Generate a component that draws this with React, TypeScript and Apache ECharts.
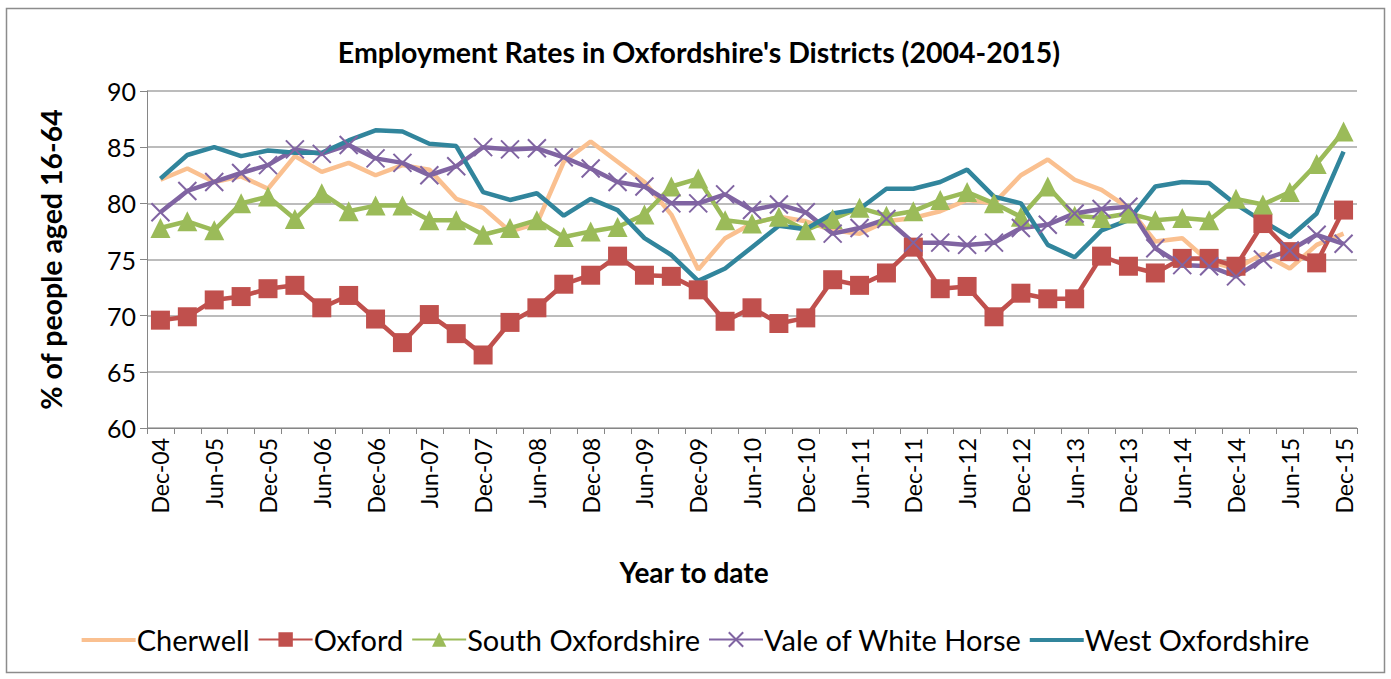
import React, { useEffect, useRef } from "react";
import * as echarts from "echarts";

const periods: string[] = [];
const years = ["04", "05", "06", "07", "08", "09", "10", "11", "12", "13", "14", "15"];
const months = ["Mar", "Jun", "Sep", "Dec"];
periods.push("Dec-04");
for (let y = 1; y < years.length; y++) {
  for (const m of months) periods.push(`${m}-${years[y]}`);
}

const cherwell = [82.1, 83.1, 81.9, 82.4, 81.3, 84.2, 82.8, 83.6, 82.5, 83.4, 83.0, 80.4, 79.6, 77.5, 78.2, 83.7, 85.5, 83.7, 81.9, 79.0, 74.1, 76.9, 78.2, 78.8, 78.4, 77.6, 77.3, 78.4, 78.7, 79.3, 80.3, 80.0, 82.5, 83.9, 82.1, 81.2, 79.6, 76.6, 76.9, 74.8, 74.2, 75.5, 74.2, 76.3, 77.3];
const oxford = [69.6, 69.9, 71.4, 71.7, 72.4, 72.7, 70.7, 71.8, 69.7, 67.6, 70.1, 68.4, 66.5, 69.4, 70.7, 72.8, 73.6, 75.3, 73.6, 73.5, 72.3, 69.5, 70.7, 69.3, 69.8, 73.2, 72.7, 73.8, 76.1, 72.4, 72.6, 69.9, 72.0, 71.5, 71.5, 75.3, 74.4, 73.8, 75.1, 75.1, 74.4, 78.2, 75.7, 74.7, 79.4];
const southOxon = [77.8, 78.4, 77.6, 80.0, 80.6, 78.6, 80.9, 79.3, 79.8, 79.8, 78.5, 78.5, 77.2, 77.8, 78.5, 77.0, 77.5, 77.9, 79.0, 81.5, 82.2, 78.5, 78.2, 78.8, 77.6, 78.6, 79.6, 78.9, 79.3, 80.3, 81.0, 80.0, 78.8, 81.5, 78.9, 78.7, 79.1, 78.5, 78.7, 78.5, 80.4, 79.9, 81.0, 83.5, 86.4];
const vale = [79.2, 81.1, 81.9, 82.7, 83.4, 84.8, 84.4, 85.2, 84.0, 83.6, 82.5, 83.3, 85.0, 84.8, 84.9, 84.1, 83.1, 81.9, 81.5, 80.0, 80.0, 80.8, 79.4, 79.9, 79.2, 77.3, 77.8, 78.6, 76.5, 76.5, 76.3, 76.5, 77.8, 78.1, 79.1, 79.5, 79.7, 76.0, 74.5, 74.4, 73.5, 75.0, 75.8, 77.2, 76.4];
const westOxon = [82.2, 84.3, 85.0, 84.2, 84.7, 84.5, 84.5, 85.6, 86.5, 86.4, 85.3, 85.1, 81.0, 80.3, 80.9, 78.9, 80.4, 79.4, 76.9, 75.4, 73.1, 74.2, 76.1, 78.0, 77.7, 79.1, 79.5, 81.3, 81.3, 81.9, 83.0, 80.6, 80.0, 76.3, 75.2, 77.6, 78.5, 81.5, 81.9, 81.8, 79.9, 78.4, 77.0, 79.1, 84.6];

const FONT = "Lato";
const crossPath = "path://M0,0 L10,10 M10,0 L0,10";
const lineIcon = "path://M0,0 M0,7.5 L54,7.5 L54,11.5 L0,11.5 Z M54,18";

export default function App() {
  const ref = useRef<HTMLDivElement>(null);
  useEffect(() => {
    if (!ref.current) return;
    const chart = echarts.init(ref.current, null, { renderer: "svg" });
    const base = { type: "line" as const, showAllSymbol: true, z: 2 };
    chart.setOption({
      animation: false,
      backgroundColor: "#ffffff",
      textStyle: { fontFamily: FONT },
      title: {
        text: "Employment Rates in Oxfordshire's Districts (2004-2015)",
        left: 694,
        textAlign: "center",
        top: 32,
        textStyle: { fontFamily: FONT, fontWeight: "bold", fontSize: 28.5, color: "#000" },
      },
      graphic: [
        {
          type: "rect",
          shape: { x: 6.5, y: 8.5, width: 1378, height: 664 },
          style: { fill: "none", stroke: "#8c8c8c", lineWidth: 1.5 },
          silent: true,
        },
        {
          type: "text",
          x: 694,
          y: 572,
          style: { text: "Year to date", fontFamily: FONT, fontWeight: "bold", fontSize: 28, fill: "#000", align: "center", verticalAlign: "middle" },
          silent: true,
        },
      ],
      legend: {
        bottom: 20,
        left: "center",
        itemWidth: 54,
        itemHeight: 18,
        itemGap: 8,
        textStyle: { fontFamily: FONT, fontSize: 29, color: "#000", padding: [0, 0, 0, -4] },
        data: [
          { name: "Cherwell", icon: lineIcon },
          { name: "Oxford" },
          { name: "South Oxfordshire" },
          { name: "Vale of White Horse" },
          { name: "West Oxfordshire", icon: lineIcon },
        ],
      },
      grid: { left: 147, right: 34, top: 91, bottom: 251, containLabel: false },
      xAxis: {
        type: "category",
        data: periods,
        boundaryGap: true,
        axisLine: { lineStyle: { color: "#868686", width: 1 } },
        axisTick: { show: true, interval: 0, length: 6, lineStyle: { color: "#868686" } },
        axisLabel: { interval: 1, rotate: 90, fontSize: 23, color: "#000", fontFamily: FONT, margin: 10 },
      },
      yAxis: {
        type: "value",
        min: 60,
        max: 90,
        interval: 5,
        name: "% of people aged 16-64",
        nameLocation: "middle",
        nameGap: 82,
        nameTextStyle: { fontFamily: FONT, fontWeight: "bold", fontSize: 28.5, color: "#000" },
        axisLine: { show: true, lineStyle: { color: "#868686", width: 1 } },
        axisTick: { show: true, length: 7, lineStyle: { color: "#868686" } },
        axisLabel: { fontSize: 25, color: "#000", fontFamily: FONT, margin: 11 },
        splitLine: { lineStyle: { color: "#a6a6a6", width: 1.5 } },
      },
      series: [
        { ...base, name: "Cherwell", data: cherwell, showSymbol: false, symbol: "none", color: "#FAC090", lineStyle: { width: 4.5, color: "#FAC090" } },
        { ...base, name: "Oxford", data: oxford, symbol: "rect", symbolSize: 19, color: "#C0504D", itemStyle: { color: "#C0504D" }, lineStyle: { width: 4.5, color: "#C0504D" } },
        { ...base, name: "South Oxfordshire", data: southOxon, symbol: "triangle", symbolSize: 20, color: "#9BBB59", itemStyle: { color: "#9BBB59" }, lineStyle: { width: 4.5, color: "#9BBB59" } },
        { ...base, name: "Vale of White Horse", data: vale, symbol: crossPath, symbolSize: 18, color: "#8064A2", itemStyle: { color: "transparent", borderColor: "#8064A2", borderWidth: 2 }, lineStyle: { width: 4.5, color: "#8064A2" } },
        { ...base, name: "West Oxfordshire", data: westOxon, showSymbol: false, symbol: "none", color: "#31859C", lineStyle: { width: 4.5, color: "#31859C" } },
      ],
    });
    return () => chart.dispose();
  }, []);
  return <div ref={ref} style={{ position: "absolute", left: 0, top: 0, width: 1391, height: 679 }} />;
}
